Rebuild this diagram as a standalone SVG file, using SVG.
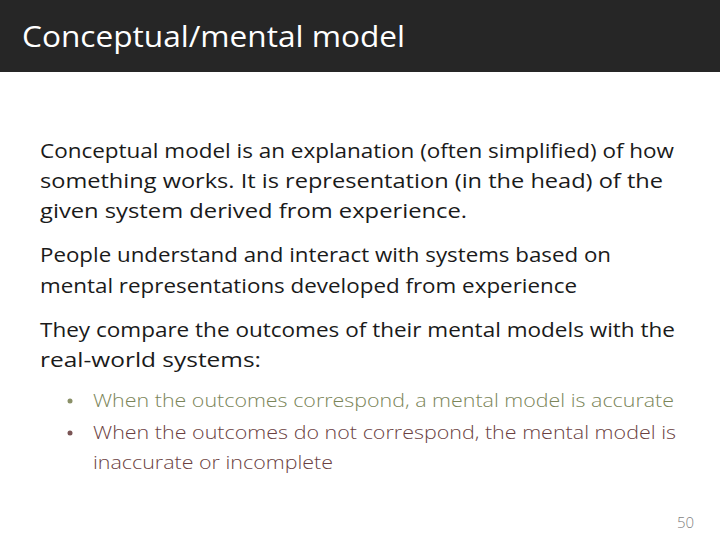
<svg xmlns="http://www.w3.org/2000/svg" width="720" height="540" viewBox="0 0 720 540">
<style>
.b{font-family:"Open Sans","Liberation Sans",sans-serif;font-size:19.5px;fill:#1a1a1a}
.s{font-family:"Open Sans","Liberation Sans",sans-serif;font-size:18px;font-weight:300}
</style>
<rect width="720" height="540" fill="#ffffff"/>
<rect width="720" height="72" fill="#262626"/>
<text x="22" y="47" font-family="Open Sans,Liberation Sans,sans-serif" font-size="29" fill="#ffffff" textLength="383" lengthAdjust="spacingAndGlyphs">Conceptual/mental model</text>
<text class="b" x="40" y="158" textLength="634" lengthAdjust="spacingAndGlyphs">Conceptual model is an explanation (often simplified) of how</text>
<text class="b" x="40" y="188" textLength="623" lengthAdjust="spacingAndGlyphs">something works. It is representation (in the head) of the</text>
<text class="b" x="40" y="218" textLength="427" lengthAdjust="spacingAndGlyphs">given system derived from experience.</text>
<text class="b" x="40" y="262" textLength="571" lengthAdjust="spacingAndGlyphs">People understand and interact with systems based on</text>
<text class="b" x="40" y="293" textLength="537" lengthAdjust="spacingAndGlyphs">mental representations developed from experience</text>
<text class="b" x="40" y="337" textLength="635" lengthAdjust="spacingAndGlyphs">They compare the outcomes of their mental models with the</text>
<text class="b" x="40" y="367" textLength="221" lengthAdjust="spacingAndGlyphs">real-world systems:</text>
<g class="s" fill="#7b8559">
<circle cx="70" cy="401" r="2.5" fill="#8a9068"/>
<text x="93" y="407" textLength="581" lengthAdjust="spacingAndGlyphs">When the outcomes correspond, a mental model is accurate</text>
</g>
<g class="s" fill="#6b3f3f">
<circle cx="70" cy="433" r="2.5" fill="#7a5555"/>
<text x="93" y="439" textLength="583" lengthAdjust="spacingAndGlyphs">When the outcomes do not correspond, the mental model is</text>
<text x="93" y="469" textLength="240" lengthAdjust="spacingAndGlyphs">inaccurate or incomplete</text>
</g>
<text x="694" y="528" text-anchor="end" font-family="Open Sans,Liberation Sans,sans-serif" font-size="15" font-weight="300" fill="#7f7f7f">50</text>
</svg>
